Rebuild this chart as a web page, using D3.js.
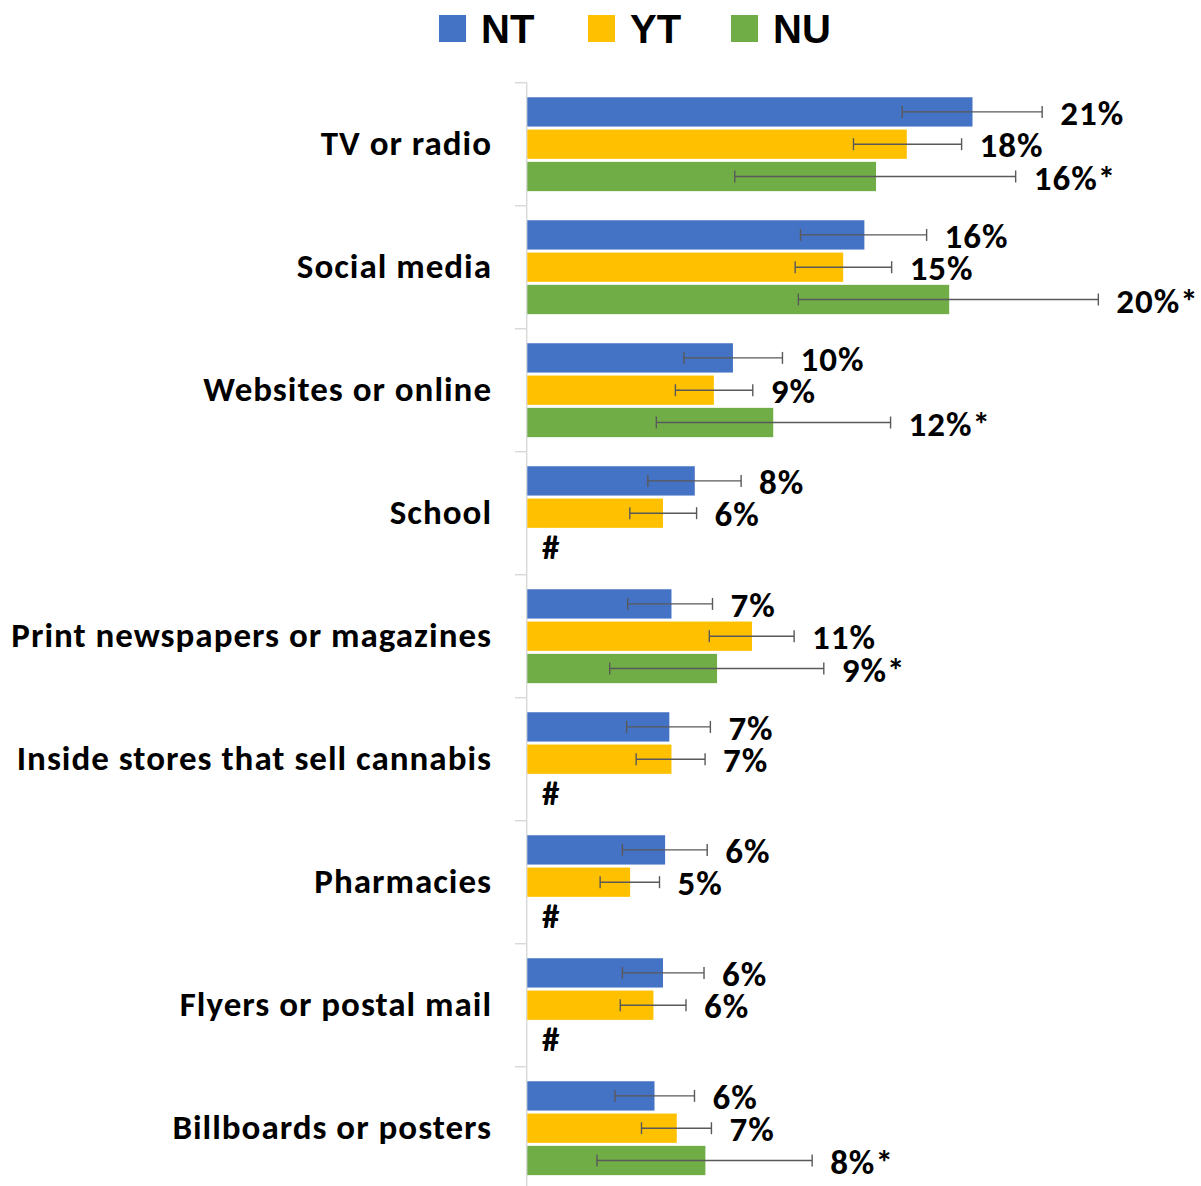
<!DOCTYPE html>
<html>
<head>
<meta charset="utf-8">
<script src="https://cdn.jsdelivr.net/npm/d3@7"></script>
<style>
  html, body { margin: 0; padding: 0; background: #fff; }
  svg { display: block; }
</style>
</head>
<body>
<svg id="chart" width="1201" height="1186"></svg>
<script>
const categories = ["TV or radio", "Social media", "Websites or online", "School",
  "Print newspapers or magazines", "Inside stores that sell cannabis", "Pharmacies",
  "Flyers or postal mail", "Billboards or posters"];
const seriesNames = ["NT", "YT", "NU"];
const seriesColors = ["#4472C4", "#FFC000", "#70AD47"];

const ntValues = [21.0, 15.9, 9.7, 7.9, 6.8, 6.7, 6.5, 6.4, 6.0];
const ntLow    = [17.7, 12.9, 7.4, 5.7, 4.75, 4.7, 4.5, 4.5, 4.15];
const ntHigh   = [24.3, 18.85, 12.05, 10.1, 8.75, 8.65, 8.5, 8.35, 7.9];
const ntLabels = ["21%", "16%", "10%", "8%", "7%", "7%", "6%", "6%", "6%"];

const ytValues = [17.9, 14.9, 8.8, 6.4, 10.6, 6.8, 4.85, 5.95, 7.05];
const ytLow    = [15.4, 12.65, 7.0, 4.85, 8.6, 5.15, 3.45, 4.4, 5.4];
const ytHigh   = [20.5, 17.2, 10.65, 8.0, 12.6, 8.4, 6.25, 7.5, 8.7];
const ytLabels = ["18%", "15%", "9%", "6%", "11%", "7%", "5%", "6%", "7%"];

const nuValues = [16.45, 19.9, 11.6, null, 8.95, null, null, null, 8.4];
const nuLow    = [9.8, 12.8, 6.1, null, 3.9, null, null, null, 3.3];
const nuHigh   = [23.05, 26.95, 17.15, null, 14.0, null, null, null, 13.45];
const nuLabels = ["16%*", "20%*", "12%*", "#", "9%*", "#", "#", "#", "8%*"];

const seriesData = [
  { name: "NT", values: ntValues, low: ntLow, high: ntHigh, labels: ntLabels },
  { name: "YT", values: ytValues, low: ytLow, high: ytHigh, labels: ytLabels },
  { name: "NU", values: nuValues, low: nuLow, high: nuHigh, labels: nuLabels }
];

const svg = d3.select("#chart");
const labelFont = "Carlito, Calibri, Lato, 'Open Sans', sans-serif";

const axisX = 527;
const x = d3.scaleLinear().domain([0, 30]).range([axisX, axisX + 30 * 21.2]);

const bandTop = 82.7, step = 123;
const y0 = d3.scaleBand().domain(categories)
  .range([bandTop, bandTop + step * categories.length])
  .paddingInner(0.2366).paddingOuter(0.1183);
const y1 = d3.scaleBand().domain(seriesNames)
  .range([0, y0.bandwidth()]).paddingInner(0.0929);

const color = d3.scaleOrdinal().domain(seriesNames).range(seriesColors);

// Axis line and category ticks
const axisG = svg.append("g");
axisG.append("line")
  .attr("x1", axisX - 0.3).attr("x2", axisX - 0.3)
  .attr("y1", bandTop).attr("y2", bandTop + step * categories.length)
  .attr("stroke", "#D9D9D9").attr("stroke-width", 1.5);
const tickYs = d3.range(categories.length + 1).map(i => bandTop + i * step);
axisG.selectAll("line.tick").data(tickYs).join("line")
  .attr("class", "tick")
  .attr("x1", axisX - 12).attr("x2", axisX)
  .attr("y1", d => d).attr("y2", d => d)
  .attr("stroke", "#D9D9D9").attr("stroke-width", 1.5);

// Category labels
svg.append("g").selectAll("text").data(categories).join("text")
  .attr("x", 492)
  .attr("y", d => y0(d) - y0.step() * y0.paddingInner() / 2 + step / 2 - 1)
  .attr("dy", "0.35em")
  .attr("text-anchor", "end")
  .attr("font-family", labelFont)
  .attr("font-weight", "bold")
  .attr("font-size", 35)
  .attr("letter-spacing", 1)
  .attr("fill", "#000")
  .text(d => d);

// Bars, error bars, labels
seriesData.forEach(s => {
  const g = svg.append("g");
  const rows = categories.map((c, i) => ({
    cat: c, v: s.values[i], lo: s.low[i], hi: s.high[i], label: s.labels[i]
  }));
  const yy = d => y0(d.cat) + y1(s.name);
  const bh = y1.bandwidth();

  g.selectAll("rect").data(rows.filter(d => d.v != null)).join("rect")
    .attr("x", x(0) + 0.3)
    .attr("y", d => yy(d))
    .attr("width", d => x(d.v) - x(0))
    .attr("height", bh)
    .attr("fill", color(s.name));

  const eb = rows.filter(d => d.lo != null);
  g.selectAll("line.eb").data(eb).join("line")
    .attr("class", "eb")
    .attr("x1", d => x(d.lo)).attr("x2", d => x(d.hi))
    .attr("y1", d => yy(d) + bh / 2).attr("y2", d => yy(d) + bh / 2)
    .attr("stroke", "#595959").attr("stroke-width", 1.4);
  g.selectAll("line.capl").data(eb).join("line")
    .attr("class", "capl")
    .attr("x1", d => x(d.lo)).attr("x2", d => x(d.lo))
    .attr("y1", d => yy(d) + bh / 2 - 6).attr("y2", d => yy(d) + bh / 2 + 6)
    .attr("stroke", "#595959").attr("stroke-width", 1.4);
  g.selectAll("line.caph").data(eb).join("line")
    .attr("class", "caph")
    .attr("x1", d => x(d.hi)).attr("x2", d => x(d.hi))
    .attr("y1", d => yy(d) + bh / 2 - 6).attr("y2", d => yy(d) + bh / 2 + 6)
    .attr("stroke", "#595959").attr("stroke-width", 1.4);

  g.selectAll("text").data(rows).join("text")
    .attr("x", d => (d.hi != null ? x(d.hi) + 18 : x(0) + 15))
    .attr("y", d => yy(d) + bh / 2 + 1)
    .attr("dy", "0.35em")
    .attr("font-family", labelFont)
    .attr("font-weight", "bold")
    .attr("font-size", 35)
    .attr("letter-spacing", 1)
    .attr("fill", "#000")
    .text(d => d.label);
});

// Legend
const legendX = [439, 588, 731];
const legend = svg.append("g").selectAll("g").data(seriesNames).join("g")
  .attr("transform", (d, i) => `translate(${legendX[i]},15)`);
legend.append("rect")
  .attr("width", 27).attr("height", 27)
  .attr("fill", d => color(d));
legend.append("text")
  .attr("x", 42).attr("y", 27.7)
  .attr("font-family", "'Liberation Sans', Arial, sans-serif")
  .attr("font-weight", "bold")
  .attr("font-size", 40)
  .attr("fill", "#000")
  .text(d => d);
</script>
</body>
</html>
